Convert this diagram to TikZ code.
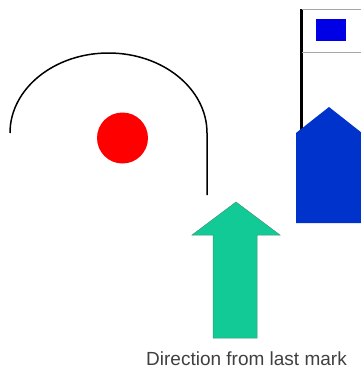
\documentclass[tikz,border=0pt]{standalone}
\usepackage{fontspec}
\setmainfont{Liberation Sans}
\begin{document}
\begin{tikzpicture}[x=1pt,y=-1pt]
\definecolor{mkred}{RGB}{255,0,0}
\definecolor{flagblue}{RGB}{0,0,230}
\definecolor{boatblue}{RGB}{0,51,204}
\definecolor{arrgreen}{RGB}{18,202,150}
\definecolor{arredge}{RGB}{60,150,115}
\definecolor{txtgray}{RGB}{64,64,64}
\tikzset{
  pathline/.style={draw=black,line width=1.5pt},
  thinline/.style={draw=gray!70,line width=0.6pt}
}
\useasboundingbox (0,0) rectangle (361,370);
% curved path
\draw[pathline] (10,133) arc[start angle=180,end angle=0,x radius=98.5,y radius=-80] -- (207,195);
% red mark
\fill[mkred] (122.5,138) circle[radius=25.5];
% flag pole and flag
\draw[line width=2.1pt] (301.5,9) -- (301.5,132);
\draw[thinline] (301.5,9) -- (361,9);
\draw[thinline] (301.5,52) -- (361,52);
\fill[flagblue] (316,19) rectangle (346,41);
% blue boat shape
\fill[boatblue] (296,133) -- (329,107) -- (362,133) -- (362,223) -- (296,223) -- cycle;
% green arrow
\draw[arredge,fill=arrgreen,line width=0.5pt] (236,202) -- (280,235) -- (257,235) -- (257,338) -- (213,338) -- (213,235) -- (192,235) -- cycle;
\node[text=txtgray,font=\fontsize{19}{22}\selectfont,inner sep=0pt] (lbl) at (246.5,359) {Direction from last mark};
\end{tikzpicture}
\end{document}
